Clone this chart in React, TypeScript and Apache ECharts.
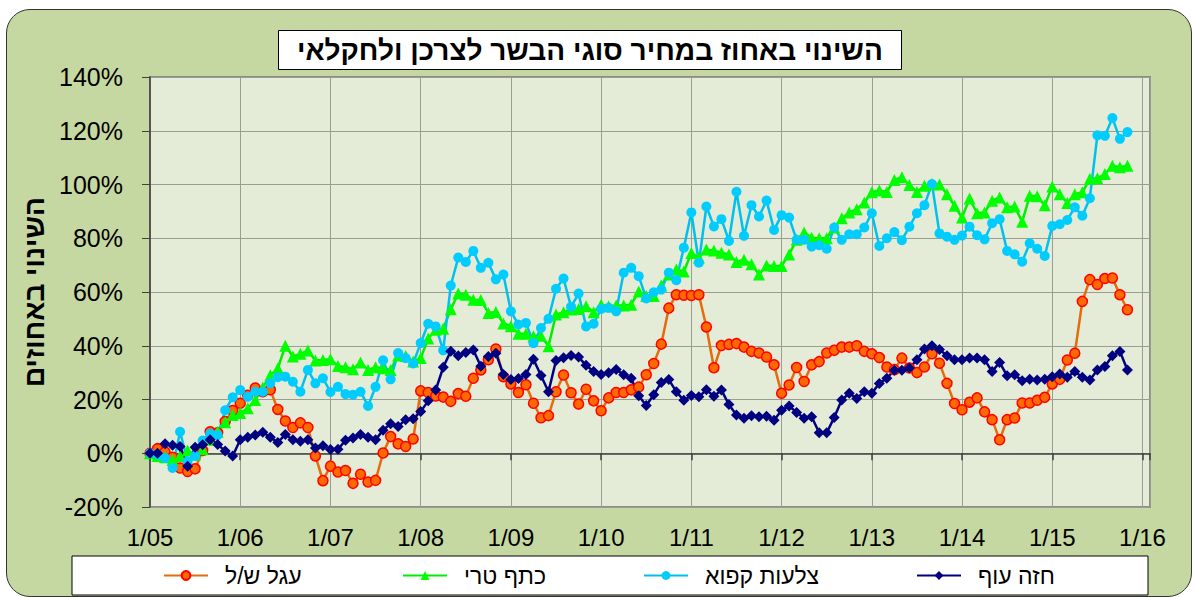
import React, { useEffect, useRef } from 'react';
import * as echarts from 'echarts';

// Monthly index 0 = 1/2005 ... 130 = 11/2015
const yearLabels = ['1/05', '1/06', '1/07', '1/08', '1/09', '1/10', '1/11', '1/12', '1/13', '1/14', '1/15', '1/16'];

const seriesNames = ['עגל ש/ל', 'כתף טרי', 'צלעות קפוא', 'חזה עוף'];

// עגל ש/ל
const calf = [
  0, 1.7, 0.5, -1.5, -5.5, -6.8, -5.8, 1, 8, 7.6,
  11.8, 15.9, 18.6, 21.6, 24.3, 22.9, 23.6, 16.3, 12, 9.6,
  11.3, 9.6, -1, -10.2, -4.8, -7, -6.4, -11.2, -7.8, -10.7,
  -10.1, 0.1, 6.2, 3.5, 2.5, 5.3, 23.2, 22.6, 21.3, 20.9,
  19.3, 22.2, 21.2, 27.9, 31, 34.8, 38.8, 28.5, 25.8, 22.6,
  25.5, 18.6, 13.2, 14, 22.9, 29.1, 22.5, 18.3, 23.8, 19.5,
  15.8, 20.6, 22.6, 22.6, 23.6, 24.6, 29.2, 33.4, 40.6, 54,
  59, 58.8, 58.7, 59, 47, 31.8, 40.1, 40.5, 40.8, 39.5,
  37.9, 37.3, 35.8, 32.9, 22.3, 25.4, 31.9, 26.7, 32.9, 34.1,
  37.3, 38.3, 39.5, 39.5, 40, 37.9, 37, 35.6, 32.1, 31.1,
  35.4, 31.7, 30, 32.1, 37, 33.5, 26, 18.5, 16.2, 19,
  20.6, 15.4, 12.5, 5, 12.5, 13.1, 18.7, 18.7, 19.7, 20.8,
  25.8, 27.5, 34.7, 37.2, 56.5, 64.6, 62.8, 65, 65.2, 59,
  53.4,
];

// כתף טרי
const shoulder = [
  0, -1, -1.5, -2.5, -1, 1, -0.5, 1.5, 5, 8,
  11.5, 14.2, 15, 16.7, 19.8, 24.5, 29, 31.6, 40, 36,
  37, 38.2, 34.5, 34.7, 35, 32.5, 32, 31.3, 33.8, 31,
  32, 31.6, 31, 36.4, 36.2, 34.1, 35.4, 42.7, 46, 46.3,
  53.6, 59.4, 59, 57.1, 57, 52.2, 52.6, 48.3, 47.3, 44.5,
  44.5, 43.5, 43.7, 39.8, 51.6, 52.5, 53.5, 53.7, 54.7, 52.5,
  55.3, 54.7, 55, 55, 55.3, 60.2, 58.5, 58.5, 62.4, 66.5,
  68.4, 67.6, 74.5, 72.8, 75.8, 75.4, 74.6, 74, 71.2, 72,
  70.3, 66.5, 69.9, 69.7, 69.7, 74, 79.4, 82.1, 80.2, 80,
  80, 84, 87.4, 89.6, 90.8, 93.3, 97.1, 97.8, 97.2, 101.7,
  102.7, 99.8, 97.2, 99.5, 100.2, 100, 96.4, 92.1, 87.7, 94.8,
  89.3, 89.6, 94, 95.2, 91.5, 91.8, 86.1, 95.8, 95.6, 92.3,
  99.3, 96.4, 93.1, 96.4, 97.1, 102.1, 102.3, 103.9, 107, 106.4,
  107,
];

// צלעות קפוא
const ribs = [
  0, -0.5, -1.8, -5.5, 8, -3, -1, 4.7, 7.3, 6.7,
  16, 20.8, 23.5, 21, 22.9, 22.9, 26, 28.3, 28.5, 26.6,
  22.9, 31, 26, 27.9, 22.8, 24.7, 22, 21.8, 22.9, 17.6,
  24.7, 34.6, 27.5, 37.3, 35.4, 33.4, 41, 48.2, 47.2, 38.3,
  62.4, 72.8, 71.2, 75.3, 69, 70.9, 64.7, 66.5, 52.8, 47.9,
  48.5, 41, 46.6, 50, 61.2, 65, 54.5, 59.4, 47.2, 48.2,
  53.7, 54.1, 52.8, 67.2, 69, 65.9, 57.6, 59.9, 60.9, 67.2,
  64.4, 76.5, 89.6, 70.9, 91.8, 84.4, 87.1, 79, 97.3, 80.9,
  92.3, 88.1, 94, 83.1, 88.6, 87.7, 79.4, 79.4, 76.9, 77.4,
  76.1, 84, 79.4, 81.5, 81.5, 84, 89.3, 77.1, 80, 82.3,
  79.3, 84.3, 89.3, 92.3, 100.2, 81.8, 80.6, 79.4, 81, 84.3,
  81.1, 79.6, 85.6, 87.1, 75.3, 74, 71.3, 78.1, 76.1, 73.4,
  84.6, 85.2, 86.8, 91.5, 88.4, 94.9, 118.3, 118.1, 124.7, 117,
  119.5,
];

// חזה עוף
const chicken = [
  0, 0, 3.5, 3, 2.5, -4.8, 2.2, 3.2, 5, 3.3,
  0.8, -1, 5, 6, 6.8, 7.8, 6, 4, 7, 5,
  4.5, 5, 2, 2.8, 1.4, 1.5, 4.8, 5.7, 7, 6,
  5, 8.6, 11, 10, 12.5, 12.8, 15.5, 19.5, 23.5, 32,
  38, 36.3, 37.5, 38.4, 32.4, 36, 37.2, 29.3, 27.4, 27.8,
  29.3, 35, 28.9, 22.9, 34.5, 35.5, 36.4, 35.8, 32.7, 30.4,
  29.3, 30, 31.2, 29.2, 27.9, 21.4, 17.8, 21.8, 26.3, 27.4,
  22.9, 19.7, 21.5, 21, 23.6, 21.2, 23.5, 18.1, 14.2, 13,
  14, 13.6, 13.8, 12.3, 16, 17.6, 15.2, 13, 13.6, 7.6,
  7.6, 13.3, 19.8, 22.3, 20.4, 22.9, 22.3, 26, 27.9, 30.9,
  30.9, 31.7, 34.8, 38.8, 40, 38.6, 36.3, 34.8, 34.8, 35.4,
  35.4, 34.8, 30.4, 33.8, 28.8, 29.2, 27, 27.5, 27.3, 27.5,
  28.5, 29.5, 28.3, 30.4, 28.3, 27.3, 31, 32.3, 36.3, 37.9,
  31,
];

const FONT = '"Liberation Sans", Arial, "DejaVu Sans", sans-serif';

export default function App() {
  const ref = useRef<HTMLDivElement>(null);

  useEffect(() => {
    if (!ref.current) return;
    const chart = echarts.init(ref.current, null, { renderer: 'svg' });

    const toPairs = (arr: number[]) => arr.map((v, i) => [i, v]);

    const mk = (
      name: string,
      arr: number[],
      lineColor: string,
      fill: string,
      symbol: string,
      size: number,
      border?: string
    ) => ({
      name,
      type: 'line',
      data: toPairs(arr),
      xAxisIndex: 0,
      yAxisIndex: 0,
      symbol,
      symbolSize: size,
      showAllSymbol: true,
      lineStyle: { color: lineColor, width: 2.5 },
      itemStyle: {
        color: fill,
        borderColor: border || fill,
        borderWidth: border ? 1.5 : 0,
      },
      emphasis: { disabled: true },
      z: 3,
    });

    const legendLefts = [163, 402, 643, 916];

    const option: any = {
      animation: false,
      backgroundColor: 'transparent',
      title: {
        text: 'השינוי באחוז במחיר סוגי הבשר לצרכן ולחקלאי',
        left: 278,
        top: 30,
        padding: [4, 19, 3, 19],
        backgroundColor: '#ffffff',
        borderColor: '#000000',
        borderWidth: 1,
        textStyle: { fontFamily: FONT, fontSize: 28, fontWeight: 'bold', color: '#000', lineHeight: 33 },
      },
      grid: {
        left: 150,
        top: 77,
        width: 1000,
        height: 430,
        show: true,
        backgroundColor: '#e4ebd6',
        borderColor: '#8c8c8c',
        borderWidth: 2,
        containLabel: false,
      },
      graphic: [
        {
          type: 'rect',
          shape: { x: 72, y: 556, width: 1076, height: 39 },
          style: { fill: '#ffffff', stroke: '#000000', lineWidth: 1 },
          z: 1,
        },
      ],
      legend: seriesNames.map((n, i) => ({
        data: [n],
        left: legendLefts[i],
        top: 564,
        padding: 0,
        itemWidth: 44,
        itemHeight: 11,
        itemGap: 0,
        z: 10,
        selectedMode: false,
        textStyle: { fontFamily: FONT, fontSize: 23, color: '#000', padding: [0, 0, 0, 12] },
      })),
      xAxis: [
        {
          type: 'value',
          min: 0,
          max: 133,
          interval: 12,
          axisLine: { show: true, onZero: true, lineStyle: { color: '#404040', width: 1.5 } },
          axisTick: { show: true, inside: false, length: 7, lineStyle: { color: '#404040', width: 1.5 } },
          axisLabel: { show: false },
          splitLine: { show: true, lineStyle: { color: '#9a9e92', width: 1 } },
        },
        {
          type: 'value',
          position: 'bottom',
          min: 0,
          max: 133,
          interval: 12,
          axisLine: { show: false, onZero: false },
          axisTick: { show: false },
          splitLine: { show: false },
          axisLabel: {
            show: true,
            margin: 18,
            fontFamily: FONT,
            fontSize: 24,
            color: '#000',
            formatter: (v: number) => (v % 12 === 0 ? yearLabels[v / 12] || '' : ''),
          },
        },
      ],
      yAxis: {
        type: 'value',
        min: -20,
        max: 140,
        interval: 20,
        name: 'השינוי באחוזים',
        nameLocation: 'middle',
        nameRotate: 90,
        nameGap: 96,
        nameTextStyle: { fontFamily: FONT, fontSize: 28, fontWeight: 'bold', color: '#000' },
        axisLine: { show: true, lineStyle: { color: '#404040', width: 1.5 } },
        axisTick: { show: true, inside: false, length: 8, lineStyle: { color: '#404040' } },
        axisLabel: {
          margin: 27,
          fontFamily: FONT,
          fontSize: 25,
          color: '#000',
          formatter: '{value}%',
        },
        splitLine: { show: true, lineStyle: { color: '#9a9e92', width: 1 } },
      },
      series: [
        mk(seriesNames[0], calf, '#e46c0a', '#ff6a00', 'circle', 10, '#ff0000'),
        mk(seriesNames[1], shoulder, '#00ee00', '#00ff00', 'triangle', 12),
        mk(seriesNames[2], ribs, '#00c0f0', '#00ccff', 'circle', 10),
        mk(seriesNames[3], chicken, '#000080', '#000080', 'diamond', 11),
      ],
    };

    chart.setOption(option);
    return () => chart.dispose();
  }, []);

  return (
    <div
      style={{
        position: 'fixed',
        left: 0,
        top: 0,
        width: 1195,
        height: 597,
        background: '#ffffff',
        overflow: 'hidden',
      }}
    >
      <div
        style={{
          position: 'absolute',
          left: 6,
          top: 9,
          width: 1186,
          height: 588,
          boxSizing: 'border-box',
          border: '1px solid #333',
          borderRadius: 24,
          background: '#c6d8a2',
        }}
      />
      <div ref={ref} style={{ position: 'absolute', left: 0, top: 0, width: 1195, height: 597 }} />
    </div>
  );
}
